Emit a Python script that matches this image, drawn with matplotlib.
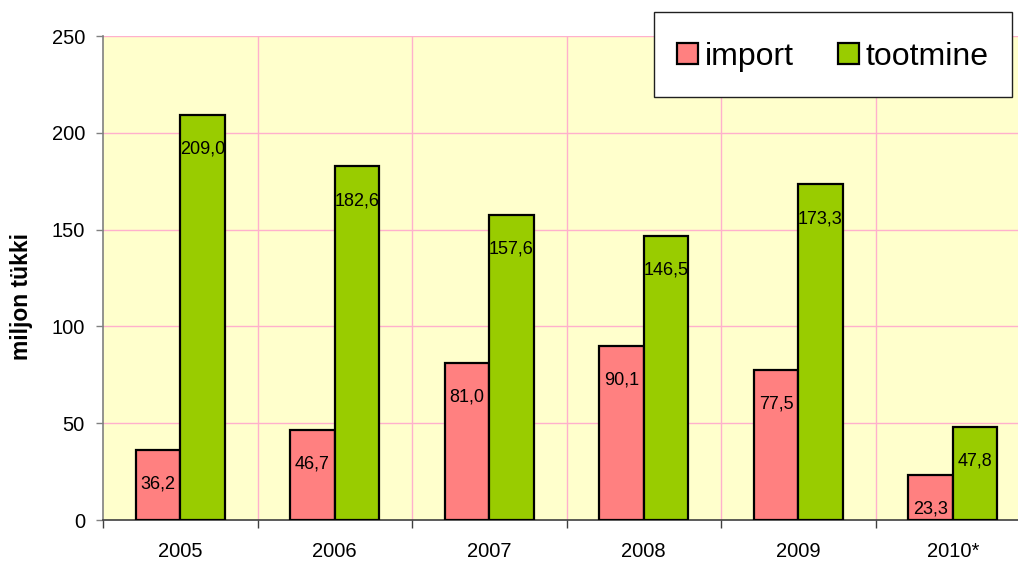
import numpy as np
import matplotlib
matplotlib.use("Agg")
import matplotlib.pyplot as plt
from matplotlib.patches import Rectangle

years = ["2005", "2006", "2007", "2008", "2009", "2010*"]
imp = [36.2, 46.7, 81.0, 90.1, 77.5, 23.3]
prod = [209.0, 182.6, 157.6, 146.5, 173.3, 47.8]
y_ticks = [0, 50, 100, 150, 200, 250]

plt.rcParams['font.family'] = ['Liberation Sans', 'DejaVu Sans']

fig = plt.figure(figsize=(10.18, 5.61), dpi=100)
ax = fig.add_axes([103 / 1018, 41 / 561, 927 / 1018, 484 / 561])
ax.set_facecolor('#FFFFCC')

x = np.arange(len(years))
w = 0.288
b1 = ax.bar(x - w / 2, imp, w, color='#FF8080', edgecolor='black', linewidth=1.6, zorder=3, label='import')
b2 = ax.bar(x + w / 2, prod, w, color='#99CC00', edgecolor='black', linewidth=1.6, zorder=3, label='tootmine')

def fmt(v):
    return ("%.1f" % v).replace('.', ',')

for bars, vals in ((b1, imp), (b2, prod)):
    for r, v in zip(bars, vals):
        ax.annotate(fmt(v), (r.get_x() + r.get_width() / 2, v), xytext=(0, -24.5),
                    textcoords='offset points', ha='center', va='center',
                    fontsize=13, zorder=4)

ax.set_xlim(-0.5, 5.5)
ax.set_ylim(0, 250)
ax.set_yticks(y_ticks)
ax.tick_params(axis='y', labelsize=14.5, length=5, width=1, color='#808080', direction='out', pad=8)

ax.set_xticks(np.arange(-0.5, 5.6, 1.0))
ax.set_xticklabels([])
ax.set_xticks(x, minor=True)
ax.set_xticklabels(years, minor=True, fontsize=14.5)
ax.tick_params(axis='x', which='major', length=6, width=1, color='#404040', direction='out')
ax.tick_params(axis='x', which='minor', length=0, pad=16)

for yv in y_ticks[1:]:
    ax.axhline(yv, color='#FFB0CC', linewidth=1, zorder=1)
for xv in np.arange(0.5, 5.0, 1.0):
    ax.axvline(xv, color='#FFB0CC', linewidth=1, zorder=1)

for s in ('top', 'right'):
    ax.spines[s].set_visible(False)
ax.spines['left'].set_color('#808080')
ax.spines['bottom'].set_color('#404040')
ax.spines['left'].set_linewidth(1.2)
ax.spines['bottom'].set_linewidth(1.2)

ax.set_ylabel('miljon tükki', fontsize=16.5, fontweight='bold')
ax.yaxis.set_label_coords((33 - 103) / 927, (520 - 297) / 484)

# legend box
fig.patches.append(Rectangle((654 / 1018, 1 - 97 / 561), 358 / 1018, 85 / 561,
                             transform=fig.transFigure, facecolor='white',
                             edgecolor='#202020', linewidth=1, zorder=5))
fig.legend(handles=[b1, b2], loc='center', bbox_to_anchor=(833 / 1018, 1 - 56.5 / 561),
           ncol=2, frameon=False, fontsize=23, handlelength=0.66, handleheight=0.66,
           handletextpad=0.2, columnspacing=1.4)

fig.savefig('out.png', dpi=100)
